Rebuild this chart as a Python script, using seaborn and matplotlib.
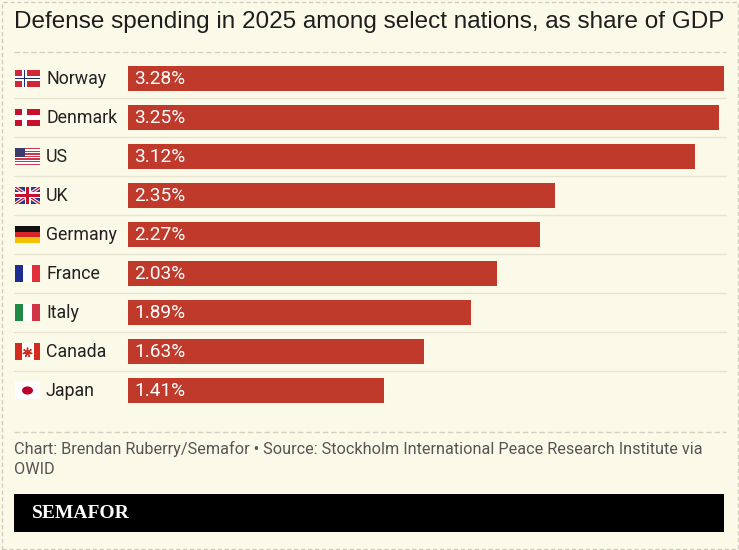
import numpy as np
import pandas as pd
import matplotlib
matplotlib.use("Agg")
import matplotlib.pyplot as plt
from matplotlib.patches import Rectangle, Circle, Polygon
from matplotlib.lines import Line2D
import seaborn as sns

# ------------------------------------------------------------------ #
# Data
# ------------------------------------------------------------------ #
countries = ["Norway", "Denmark", "US", "UK", "Germany",
             "France", "Italy", "Canada", "Japan"]
share_gdp = [3.28, 3.25, 3.12, 2.35, 2.27, 2.03, 1.89, 1.63, 1.41]
flags = ["no", "dk", "us", "uk", "de", "fr", "it", "ca", "jp"]

TITLE = "Defense spending in 2025 among select nations, as share of GDP"
FOOTER = ("Chart: Brendan Ruberry/Semafor \u2022 Source: Stockholm International "
          "Peace Research Institute via\nOWID")

BG = "#FBF9E8"
BAR = "#BF3A2B"
W, H = 739, 550

df = pd.DataFrame({"country": countries, "share": share_gdp})

sns.set_theme(style="white")
plt.rcParams["font.family"] = ["Roboto", "DejaVu Sans"]

fig = plt.figure(figsize=(W / 100, H / 100), dpi=100, facecolor=BG)


def fx(px):
    return px / W


def fy(py):
    return 1 - py / H


# plot area: rows of 39px, first row centred at y=78.5
row_h = 39
top = 78.5 - row_h / 2
ax = fig.add_axes([fx(128), fy(top + row_h * len(countries)),
                   fx(724) - fx(128), row_h * len(countries) / H])
ax.set_facecolor(BG)

sns.barplot(data=df, x="share", y="country", color=BAR, width=0.64,
            saturation=1, edgecolor="none", ax=ax)
ax.set_xlim(0, max(share_gdp))
ax.set_ylim(len(countries) - 0.5, -0.5)
ax.set_axis_off()

# value labels inside bars
for i, v in enumerate(share_gdp):
    ax.text(0.033, i + 0.02, f"{v:.2f}%", color="white", fontsize=13.8,
            va="center", ha="left")

# light row separators spanning the full width
x0 = (14 - 128) / 596
x1 = (726 - 128) / 596
for i in range(len(countries) - 1):
    ax.axhline(i + 0.5, xmin=x0, xmax=x1, color="#E6E3D1", lw=1,
               clip_on=False, zorder=0)

# country names
for i, c in enumerate(countries):
    fig.text(fx(46), fy(79 + row_h * i), c, fontsize=12.8, color="#222222",
             va="center", ha="left")


# ------------------------------------------------------------------ #
# Flags (drawn in pixel space)
# ------------------------------------------------------------------ #
def rect(x, y, w, h, color):
    fig.patches.append(Rectangle((fx(x), fy(y + h)), w / W, h / H,
                                 transform=fig.transFigure, color=color,
                                 lw=0))


def poly(pts, color):
    fig.patches.append(Polygon([(fx(a), fy(b)) for a, b in pts],
                               closed=True, transform=fig.transFigure,
                               color=color, lw=0))


def draw_flag(code, cy):
    x, w, h = 15, 25, 17
    y = cy - h / 2
    if code in ("no", "dk"):
        red = "#D0263A" if code == "no" else "#C8102E"
        rect(x, y, w, h, red)
        rect(x + 7, y, 5, h, "white")
        rect(x, y + 6, w, 5, "white")
        if code == "no":
            rect(x + 8.7, y, 1.6, h, "#1D2E6E")
            rect(x, y + 7.7, w, 1.6, "#1D2E6E")
    elif code == "us":
        for k in range(7):
            rect(x, y + k * h / 6.5, w, h / 13, "#C8374A")
            rect(x, y + k * h / 6.5 + h / 13, w, h / 13, "white")
        rect(x, y, 10, 9, "#3C3B6E")
    elif code == "uk":
        rect(x, y, w, h, "#1F3D8C")
        for pts in ([(x, y), (x + 3, y), (x + w, y + h - 2), (x + w, y + h),
                     (x + w - 3, y + h), (x, y + 2)],
                    [(x + w, y), (x + w - 3, y), (x, y + h - 2), (x, y + h),
                     (x + 3, y + h), (x + w, y + 2)]):
            poly(pts, "white")
        poly([(x, y), (x + 1.2, y), (x + w, y + h - 0.8), (x + w, y + h),
              (x + w - 1.2, y + h), (x, y + 0.8)], "#C8102E")
        poly([(x + w, y), (x + w - 1.2, y), (x, y + h - 0.8), (x, y + h),
              (x + 1.2, y + h), (x + w, y + 0.8)], "#C8102E")
        rect(x + 9.5, y, 6, h, "white")
        rect(x, y + 5.5, w, 6, "white")
        rect(x + 11, y, 3, h, "#C8102E")
        rect(x, y + 7, w, 3, "#C8102E")
    elif code == "de":
        rect(x, y, w, h / 3, "#111111")
        rect(x, y + h / 3, w, h / 3, "#D8232A")
        rect(x, y + 2 * h / 3, w, h / 3, "#F2C200")
    elif code in ("fr", "it"):
        c1, c3 = ("#1C2F8F", "#E0303A") if code == "fr" else ("#1E8A45", "#CF3345")
        rect(x, y, w / 3, h, c1)
        rect(x + w / 3, y, w / 3, h, "white")
        rect(x + 2 * w / 3, y, w / 3, h, c3)
    elif code == "ca":
        rect(x, y, w, h, "white")
        rect(x, y, 6.5, h, "#D52B1E")
        rect(x + w - 6.5, y, 6.5, h, "#D52B1E")
        fig.lines.append(Line2D([fx(x + w / 2)], [fy(cy)], marker=(7, 2, 0),
                                markersize=7, color="#D52B1E",
                                transform=fig.transFigure))
    elif code == "jp":
        rect(x, y, w, h, "white")
        fig.patches.append(Circle((fx(x + w / 2), fy(cy)), 5.5 / W,
                                  transform=fig.transFigure,
                                  color="#BC002D", lw=0))


for i, code in enumerate(flags):
    draw_flag(code, 78.5 + row_h * i)

# ------------------------------------------------------------------ #
# Title, rules, footer
# ------------------------------------------------------------------ #
fig.text(fx(14), fy(22), TITLE, fontsize=17.5, color="#1E1E1E",
         family=["Liberation Sans", "DejaVu Sans"], va="center", ha="left")

for py in (52, 432):
    fig.lines.append(Line2D([fx(14), fx(726)], [fy(py), fy(py)],
                            transform=fig.transFigure, color="#D3D1C0",
                            lw=1, ls=(0, (4, 2))))

fig.text(fx(14), fy(441), FOOTER, fontsize=11.7, color="#555555",
         family=["Roboto", "DejaVu Sans"], va="top",
         ha="left", linespacing=1.45)

fig.patches.append(Rectangle((fx(14), fy(532)), (724 - 14) / W, 38 / H,
                             transform=fig.transFigure, color="black", lw=0))
fig.text(fx(32), fy(514), "SEMAFOR", fontsize=14, color="white",
         weight="bold", family=["Liberation Serif", "DejaVu Serif"],
         va="center", ha="left")

# outer dashed frame
fig.patches.append(Rectangle((fx(1.5), fy(548.5)), (W - 3) / W, (H - 3) / H,
                             transform=fig.transFigure, fill=False,
                             edgecolor="#CFCDBD", lw=1, ls=(0, (3, 2))))

fig.savefig("out.png", dpi=100, facecolor=BG)
